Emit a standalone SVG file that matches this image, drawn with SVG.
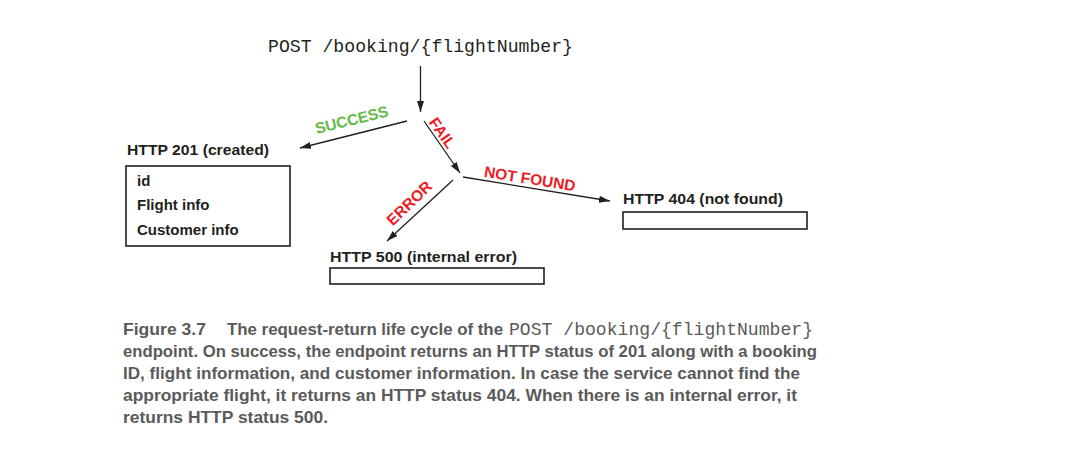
<svg xmlns="http://www.w3.org/2000/svg" width="1070" height="466" viewBox="0 0 1070 466">
  <style>
    .mono { font-family: "Liberation Mono", "Courier New", monospace; font-size: 18px; fill: #231f20; }
    .lbl { font-family: "Liberation Sans", Arial, sans-serif; font-weight: bold; font-size: 15.5px; fill: #231f20; }
    .item { font-family: "Liberation Sans", Arial, sans-serif; font-weight: bold; font-size: 15px; fill: #231f20; }
    .green { font-family: "Liberation Sans", Arial, sans-serif; font-weight: bold; font-size: 15.5px; fill: #62bb46; }
    .red { font-family: "Liberation Sans", Arial, sans-serif; font-weight: bold; font-size: 15.5px; fill: #ed1c24; }
    .box { fill: #ffffff; stroke: #231f20; stroke-width: 1.6; }
    .conn { stroke: #231f20; stroke-width: 1.3; fill: none; marker-end: url(#arrow); }
    .cap { font-family: "Liberation Sans", Arial, sans-serif; font-weight: bold; font-size: 16.5px; fill: #5a5a5a; }
    .capmono { font-family: "Liberation Mono", "Courier New", monospace; font-size: 18px; fill: #5a5a5a; }
  </style>
  <defs>
    <marker id="arrow" markerUnits="userSpaceOnUse" markerWidth="12" markerHeight="8" refX="11" refY="3.5" orient="auto">
      <path d="M0,0 L11,3.5 L0,7 Z" fill="#231f20"/>
    </marker>
  </defs>
  <rect width="1070" height="466" fill="#ffffff"/>

  <g id="request">
    <text class="mono" x="268" y="52" textLength="305" lengthAdjust="spacingAndGlyphs">POST /booking/{flightNumber}</text>
  </g>

  <g id="connectors">
    <line class="conn" x1="420.5" y1="66" x2="420.5" y2="112"/>
    <line class="conn" x1="407" y1="121" x2="300" y2="148"/>
    <line class="conn" x1="424" y1="121" x2="460" y2="173"/>
    <line class="conn" x1="463" y1="177" x2="610" y2="201"/>
    <line class="conn" x1="453" y1="180" x2="387" y2="241"/>
    <text class="green" text-anchor="middle" transform="translate(353,125) rotate(-14)">SUCCESS</text>
    <text class="red" text-anchor="middle" transform="translate(438,136) rotate(55)">FAIL</text>
    <text class="red" text-anchor="middle" transform="translate(529,184) rotate(9)">NOT FOUND</text>
    <text class="red" text-anchor="middle" transform="translate(413,207) rotate(-44)">ERROR</text>
  </g>

  <g id="http201">
    <text class="lbl" x="127" y="155" textLength="142" lengthAdjust="spacingAndGlyphs">HTTP 201 (created)</text>
    <rect class="box" x="126" y="166" width="164" height="80"/>
    <text class="item" x="137" y="186">id</text>
    <text class="item" x="137" y="210">Flight info</text>
    <text class="item" x="137" y="235">Customer info</text>
  </g>

  <g id="http404">
    <text class="lbl" x="623" y="204" textLength="160" lengthAdjust="spacingAndGlyphs">HTTP 404 (not found)</text>
    <rect class="box" x="623" y="212" width="184" height="17"/>
  </g>

  <g id="http500">
    <text class="lbl" x="330" y="262" textLength="187" lengthAdjust="spacingAndGlyphs">HTTP 500 (internal error)</text>
    <rect class="box" x="330" y="268" width="214" height="16"/>
  </g>

  <g id="caption">
    <text class="cap" x="123" y="335" textLength="83" lengthAdjust="spacingAndGlyphs">Figure 3.7</text>
    <text class="cap" x="227" y="335" textLength="276" lengthAdjust="spacingAndGlyphs">The request-return life cycle of the</text>
    <text class="capmono" x="509" y="335" textLength="304" lengthAdjust="spacingAndGlyphs">POST /booking/{flightNumber}</text>
    <text class="cap" x="123" y="357" textLength="694" lengthAdjust="spacingAndGlyphs">endpoint. On success, the endpoint returns an HTTP status of 201 along with a booking</text>
    <text class="cap" x="123" y="379" textLength="677" lengthAdjust="spacingAndGlyphs">ID, flight information, and customer information. In case the service cannot find the</text>
    <text class="cap" x="123" y="401" textLength="674" lengthAdjust="spacingAndGlyphs">appropriate flight, it returns an HTTP status 404. When there is an internal error, it</text>
    <text class="cap" x="123" y="423" textLength="205" lengthAdjust="spacingAndGlyphs">returns HTTP status 500.</text>
  </g>
</svg>
